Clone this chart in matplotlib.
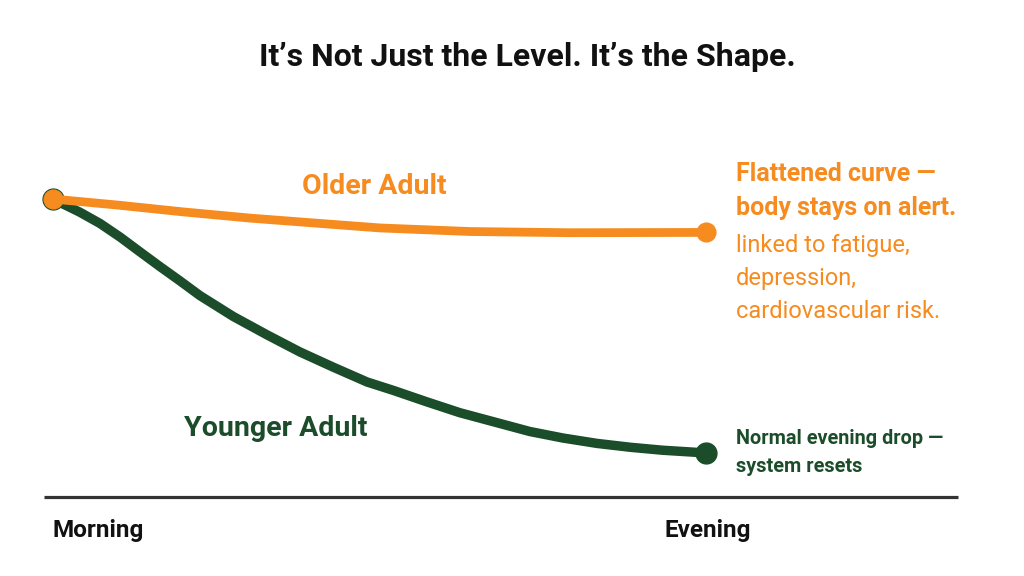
import matplotlib
matplotlib.use('Agg')
import matplotlib.pyplot as plt

# time of day, 0 = morning, 1 = evening; level in arbitrary units
young_t = [0, 0.041, 0.072, 0.103, 0.133, 0.164, 0.194, 0.225, 0.276, 0.328, 0.378,
           0.429, 0.481, 0.521, 0.573, 0.623, 0.674, 0.730, 0.781, 0.833, 0.884, 0.934, 1.0]
young_level = [100, 95.6, 91.8, 87.2, 82.3, 77.3, 72.6, 67.6, 60.6, 54.4, 48.7,
               43.6, 38.6, 35.8, 31.9, 28.3, 25.3, 22.0, 19.8, 18.0, 16.7, 15.7, 14.8]
older_t = [0, 0.098, 0.199, 0.302, 0.404, 0.501, 0.639, 0.792, 1.0]
older_level = [100, 98.0, 95.7, 93.6, 91.9, 90.3, 89.1, 88.7, 88.8]
tick_labels = ['Morning', 'Evening']

orange = '#F68B1F'
green = '#1B4D2A'
cond = ['Roboto', 'DejaVu Sans']

fig = plt.figure(figsize=(10.24, 5.76), dpi=100)
ax = fig.add_axes([0, 0, 1, 1])
ax.set_xlim(-0.0812, 1.487)
ax.set_ylim(-26.5, 166.8)
ax.axis('off')

# baseline
ax.plot([-0.014, 1.386], [0, 0], color='#333333', lw=2.3, solid_capstyle='butt')

ax.plot(young_t, young_level, color=green, lw=6.8, solid_capstyle='round', solid_joinstyle='round')
ax.plot([young_t[0], young_t[-1]], [young_level[0], young_level[-1]], 'o', color=green, ms=15, ls='none')
ax.plot(older_t, older_level, color=orange, lw=6.3, solid_capstyle='round', solid_joinstyle='round')
ax.plot([older_t[0], older_t[-1]], [older_level[0], older_level[-1]], 'o', color=orange, ms=13.5, ls='none')

def px(x, y):
    return x / 1024, 1 - y / 576

fig.text(*px(527, 57), "It\u2019s Not Just the Level. It\u2019s the Shape.", family=cond,
         weight='bold', fontsize=23, color='#111111', ha='center', va='center')

fig.text(*px(374, 187), 'Older Adult', family=cond, weight='bold', fontsize=20.5,
         color=orange, ha='center', va='center')
fig.text(*px(276, 428), 'Younger Adult', family=cond, weight='bold', fontsize=20.5,
         color=green, ha='center', va='center')

fig.text(*px(736, 174), 'Flattened curve \u2014', family=cond, weight='bold', fontsize=18,
         color=orange, ha='left', va='center')
fig.text(*px(736, 208), 'body stays on alert.', family=cond, weight='bold', fontsize=18,
         color=orange, ha='left', va='center')
for i, line in enumerate(['linked to fatigue,', 'depression,', 'cardiovascular risk.']):
    fig.text(*px(736, 246 + i * 32.5), line, family=cond, fontsize=17,
             color=orange, ha='left', va='center')

fig.text(*px(736, 438), 'Normal evening drop \u2014', family=cond, weight='bold', fontsize=14.3,
         color=green, ha='left', va='center')
fig.text(*px(736, 466), 'system resets', family=cond, weight='bold', fontsize=14.3,
         color=green, ha='left', va='center')

fig.text(*px(53, 531), tick_labels[0], family=cond, weight='bold', fontsize=17.5,
         color='#111111', ha='left', va='center')
fig.text(*px(708, 531), tick_labels[1], family=cond, weight='bold', fontsize=17.5,
         color='#111111', ha='center', va='center')

fig.savefig('out.png', dpi=100, facecolor='white')
